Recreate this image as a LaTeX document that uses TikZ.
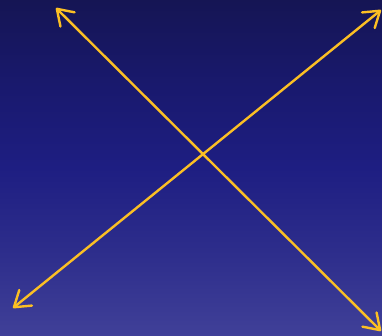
\documentclass[tikz,border=0pt]{standalone}
\usetikzlibrary{arrows.meta}
\definecolor{bgtop}{RGB}{21,21,84}
\definecolor{bgup}{RGB}{25,25,110}
\definecolor{bgmid}{RGB}{30,30,130}
\definecolor{bglow}{RGB}{46,46,140}
\definecolor{bgbot}{RGB}{64,64,152}
\definecolor{amber}{RGB}{251,191,36}
\pgfdeclareverticalshading{bgshade}{100bp}{color(0bp)=(bgbot); color(25bp)=(bgbot); color(37bp)=(bglow); color(50bp)=(bgmid); color(62bp)=(bgup); color(75bp)=(bgtop); color(100bp)=(bgtop)}
\tikzset{
  dbl/.style={draw=amber, line width=2.4pt, line cap=round, line join=round,
    {Straight Barb[length=15pt,width=20pt,line cap=round,line join=round]}-{Straight Barb[length=15pt,width=20pt,line cap=round,line join=round]}}
}
\begin{document}
\begin{tikzpicture}[x=1pt,y=-1pt]
\useasboundingbox (0,0) rectangle (382,336);
\shade[shading=bgshade] (0,0) rectangle (382,336);
\coordinate (p1) at (56,8);
\coordinate (p2) at (381,331);
\coordinate (q1) at (381,10);
\coordinate (q2) at (13,308);
\draw[dbl] (p1) -- (p2);
\draw[dbl] (q1) -- (q2);
\end{tikzpicture}
\end{document}
